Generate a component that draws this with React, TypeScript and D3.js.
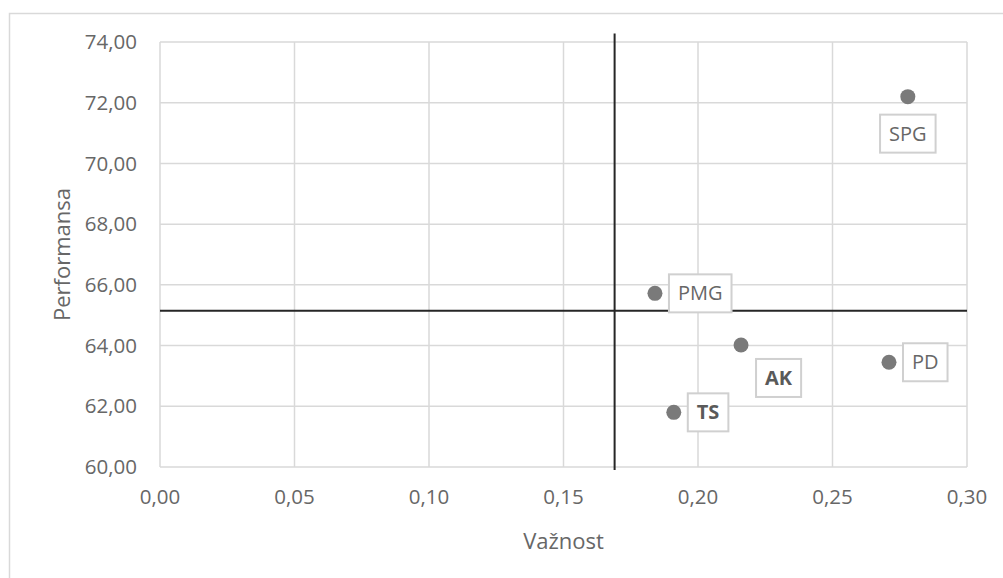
import React from 'react';
import * as d3 from 'd3';

// values
const labels = ['SPG', 'PMG', 'AK', 'PD', 'TS'];
const importance = [0.278, 0.184, 0.216, 0.271, 0.191];
const performance = [72.2, 65.72, 64.02, 63.45, 61.8];
const boldLabels = ['AK', 'TS'];
const placement = ['below', 'right', 'belowRight', 'right', 'right'];

const meanImportance = 0.169;
const meanPerformance = 65.15;
const meanLineYExtent = [59.9, 74.28];

const xTicks = [0, 0.05, 0.1, 0.15, 0.2, 0.25, 0.3];
const yTicks = [60, 62, 64, 66, 68, 70, 72, 74];

const FONT = "'Open Sans', 'Noto Sans', sans-serif";
const GREY_TEXT = '#676767';

let ctx: CanvasRenderingContext2D | null = null;
const textWidth = (s: string, bold: boolean) => {
  if (!ctx) ctx = document.createElement('canvas').getContext('2d');
  if (!ctx) return s.length * 12;
  ctx.font = `${bold ? 'bold ' : ''}20px ${FONT}`;
  return ctx.measureText(s).width;
};

const fmt = (v: number, digits: number) => v.toFixed(digits).replace('.', ',');

export default function App() {
  const width = 1003;
  const height = 578;
  const margin = { top: 42, right: 36, bottom: 111, left: 160 };
  const innerW = width - margin.left - margin.right;
  const innerH = height - margin.top - margin.bottom;

  const x = d3.scaleLinear().domain([0, 0.3]).range([0, innerW]);
  const y = d3.scaleLinear().domain([60, 74]).range([innerH, 0]);

  const points = labels.map((name, i) => ({
    name,
    cx: x(importance[i]),
    cy: y(performance[i]),
    bold: boldLabels.includes(name),
    place: placement[i],
  }));

  return (
    <svg
      width={width}
      height={height}
      style={{ position: 'absolute', left: 0, top: 0, background: '#fff' }}
      fontFamily={FONT}
    >
      {/* chart frame */}
      <rect x={9.5} y={13.5} width={1010} height={600} fill="#fff" stroke="#d9d9d9" strokeWidth={1.5} />

      <g transform={`translate(${margin.left},${margin.top})`}>
        {/* gridlines */}
        {xTicks.map((t, i) => (
          <line key={'gx' + i} x1={x(t)} x2={x(t)} y1={0} y2={innerH} stroke="#d9d9d9" strokeWidth={1.5} />
        ))}
        {yTicks.map((t, i) => (
          <line key={'gy' + i} x1={0} x2={innerW} y1={y(t)} y2={y(t)} stroke="#d9d9d9" strokeWidth={1.5} />
        ))}

        {/* tick labels */}
        {yTicks.map((t, i) => (
          <text key={'ty' + i} x={-23} y={y(t)} dy="0.35em" textAnchor="end" fontSize={20.5} fill={GREY_TEXT}>
            {fmt(t, 2)}
          </text>
        ))}
        {xTicks.map((t, i) => (
          <text key={'tx' + i} x={x(t)} y={innerH + 30} dy="0.35em" textAnchor="middle" fontSize={20.5} fill={GREY_TEXT}>
            {fmt(t, 2)}
          </text>
        ))}

        {/* mean lines */}
        <line
          x1={x(meanImportance)}
          x2={x(meanImportance)}
          y1={y(meanLineYExtent[0])}
          y2={y(meanLineYExtent[1])}
          stroke="#262626"
          strokeWidth={2}
        />
        <line
          x1={x(0)}
          x2={x(0.3)}
          y1={y(meanPerformance)}
          y2={y(meanPerformance)}
          stroke="#262626"
          strokeWidth={2}
        />

        {/* points */}
        {points.map((p) => (
          <circle key={'p' + p.name} cx={p.cx} cy={p.cy} r={7.5} fill="#7a7a7a" />
        ))}

        {/* data labels */}
        {points.map((p) => {
          const w = textWidth(p.name, p.bold) + 18;
          const h = 38;
          let bx = p.cx + 14;
          let by = p.cy - h / 2;
          if (p.place === 'below') {
            bx = p.cx - w / 2;
            by = p.cy + 18;
          } else if (p.place === 'belowRight') {
            bx = p.cx + 15;
            by = p.cy + 14;
          }
          return (
            <g key={'l' + p.name}>
              <rect x={bx} y={by} width={w} height={h} fill="#fff" stroke="#d0d0d0" strokeWidth={2} />
              <text
                x={bx + w / 2}
                y={by + h / 2}
                dy="0.35em"
                textAnchor="middle"
                fontSize={20}
                fontWeight={p.bold ? 700 : 400}
                fill={p.bold ? '#5a5a5a' : GREY_TEXT}
              >
                {p.name}
              </text>
            </g>
          );
        })}

        {/* axis titles */}
        <text x={innerW / 2} y={innerH + 74} dy="0.35em" textAnchor="middle" fontSize={22} fill={GREY_TEXT}>
          Važnost
        </text>
        <text
          transform={`translate(${-98},${innerH / 2}) rotate(-90)`}
          dy="0.35em"
          textAnchor="middle"
          fontSize={22}
          fill={GREY_TEXT}
        >
          Performansa
        </text>
      </g>
    </svg>
  );
}
